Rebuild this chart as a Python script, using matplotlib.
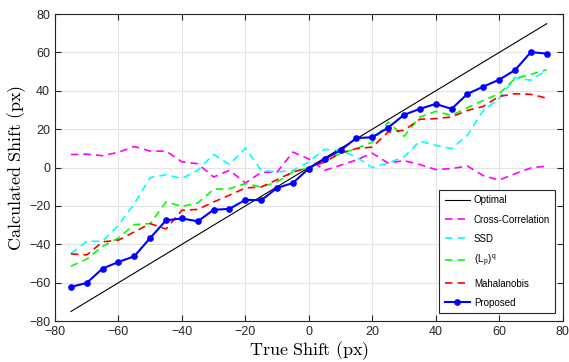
import numpy as np
import matplotlib
matplotlib.use("Agg")
import matplotlib.pyplot as plt

plt.rcParams['font.family'] = ['Liberation Sans', 'DejaVu Sans']
plt.rcParams['mathtext.fontset'] = 'cm'

true_shift = [-75, -70, -65, -60, -55, -50, -45, -40, -35, -30, -25, -20, -15, -10, -5,
              0, 5, 10, 15, 20, 25, 30, 35, 40, 45, 50, 55, 60, 65, 70, 75]

optimal = [-75, 75]
optimal_x = [-75, 75]

cross_corr = [6.8, 7.0, 6.2, 8.0, 11.0, 8.6, 8.6, 3.0, 2.0, -4.9, -1.4, -8.0, -2.5, -2.3, 8.1,
              4.5, -1.4, 1.2, 4.0, 7.5, 2.4, 3.6, 1.6, -1.0, -0.5, 0.8, -4.2, -6.5, -3.2, -0.2, 0.8]

ssd = [-44.8, -38.4, -38.4, -30.0, -18.8, -5.2, -3.7, -5.7, -1.4, 6.9, 1.6, 10.2, -1.4, -2.3, -1.5,
       3.0, 9.5, 9.0, 5.5, 0.0, 2.4, 5.5, 13.8, 11.6, 9.9, 16.8, 29.8, 35.9, 47.0, 45.5, 50.8]

lpq = [-51.4, -47.7, -41.0, -36.7, -29.7, -29.2, -17.9, -20.2, -18.4, -11.3, -11.0, -8.3, -10.1, -7.5, -2.3,
       0.0, 3.8, 7.3, 9.9, 13.3, 23.7, 16.3, 26.4, 29.3, 27.2, 31.2, 35.0, 38.5, 46.4, 48.6, 51.0]

mahalanobis = [-45.0, -45.5, -38.7, -37.8, -33.5, -29.2, -32.0, -22.2, -21.8, -17.9, -14.4, -10.6, -10.1, -6.3, -2.3,
               0.0, 2.9, 7.6, 9.9, 10.7, 18.5, 19.4, 25.2, 25.5, 26.4, 29.8, 31.9, 37.1, 38.5, 38.2, 36.2]

proposed = [-62.2, -60.1, -52.6, -49.2, -46.2, -36.7, -27.5, -26.5, -28.0, -22.0, -21.5, -16.8, -17.0, -10.6, -8.0,
            -0.5, 4.5, 9.0, 15.4, 15.8, 20.8, 27.5, 30.6, 33.2, 30.6, 38.4, 42.2, 45.8, 50.8, 60.2, 59.4]

labels = ['Optimal', 'Cross-Correlation', 'SSD', r'(L$_\mathregular{p}$)$^\mathregular{q}$', 'Mahalanobis', 'Proposed']

fig = plt.figure(figsize=(5.69, 3.62), dpi=100)
ax = fig.add_axes([0.0967, 0.113, 0.892, 0.848])

dash = (4.5, 3.0)
ax.plot(optimal_x, optimal, color='black', lw=0.8, label=labels[0])
ax.plot(true_shift, cross_corr, color='#FF00FF', lw=1.2, dashes=dash, label=labels[1])
ax.plot(true_shift, ssd, color='#00FFFF', lw=1.2, dashes=dash, label=labels[2])
ax.plot(true_shift, lpq, color='#00FF00', lw=1.2, dashes=dash, label=labels[3])
ax.plot(true_shift, mahalanobis, color='#FF0000', lw=1.2, dashes=dash, label=labels[4])
ax.plot(true_shift, proposed, color='#0000FF', lw=1.5, marker='o', markersize=3.8, label=labels[5])

ax.set_xlim(-80, 80)
ax.set_ylim(-80, 80)
ax.set_xticks(np.arange(-80, 81, 20))
ax.set_yticks(np.arange(-80, 81, 20))
ax.grid(True, color='#e3e3e3', lw=0.8)
ax.set_axisbelow(True)
ax.tick_params(direction='in', top=True, right=True, labelsize=9, colors='#262626', length=4, width=0.8)
for s in ax.spines.values():
    s.set_color('#262626')
    s.set_linewidth(0.8)

ax.set_xlabel(r'$\mathrm{True\ Shift\ (px)}$', fontsize=13, labelpad=1)
ax.set_ylabel(r'$\mathrm{Calculated\ Shift\ (px)}$', fontsize=13, labelpad=1)

leg = ax.legend(loc='lower right', fontsize=7, labelspacing=0.95, handlelength=2.6,
                handletextpad=0.4, borderpad=0.55, fancybox=False, framealpha=1,
                edgecolor='#262626', bbox_to_anchor=(0.986, 0.026), borderaxespad=0)
leg.get_frame().set_linewidth(0.8)

fig.savefig('out.png', dpi=100)
